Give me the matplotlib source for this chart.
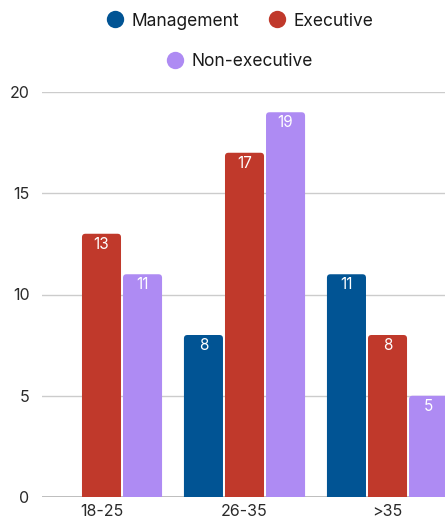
import matplotlib
matplotlib.use("Agg")
import matplotlib.pyplot as plt
from matplotlib.patches import FancyBboxPatch
from matplotlib.lines import Line2D

plt.rcParams['font.family'] = ['Inter', 'DejaVu Sans']

categories = ['18-25', '26-35', '>35']
series_names = ['Management', 'Executive', 'Non-executive']
management = [0, 8, 11]
executive = [13, 17, 8]
non_executive = [11, 19, 5]
y_ticks = [0, 5, 10, 15, 20]

colors = ['#015494', '#c0392b', '#ae8bf3']

W, H = 445, 517
fig = plt.figure(figsize=(W / 100, H / 100), dpi=100)

# axes box in pixels: left 42, bottom at y=497, top (20) at y=92, runs past the right edge
ax = fig.add_axes([42 / W, (H - 497) / H, (W - 42) / W, (497 - 92) / H])
ax.set_xlim(-0.416, 2.402)
ax.set_ylim(0, 20)

bar_w = 0.273
step = 0.287
x_px_per_unit = 143.0
y_px_per_unit = 405 / 20
radius = 3.5 / x_px_per_unit
aspect = (1 / y_px_per_unit) / (1 / x_px_per_unit)

for s, (vals, color) in enumerate(zip([management, executive, non_executive], colors)):
    for i, v in enumerate(vals):
        if v == 0:
            continue
        x0 = i + (s - 1) * step - bar_w / 2
        patch = FancyBboxPatch((x0, -1), bar_w, v + 1,
                               boxstyle=f"round,pad=0,rounding_size={radius}",
                               mutation_aspect=aspect,
                               facecolor=color, edgecolor='none', zorder=3)
        patch.set_clip_path(ax.patch)
        ax.add_patch(patch)
        ax.text(i + (s - 1) * step, v - 10.5 / y_px_per_unit, str(v),
                ha='center', va='center', color='white', fontsize=11, zorder=4)

ax.set_yticks(y_ticks)
ax.set_yticklabels([str(t) for t in y_ticks])
ax.set_xticks(range(len(categories)))
ax.set_xticklabels(categories)
ax.tick_params(axis='both', length=0, labelsize=11.5, labelcolor='#2a2a2a')
ax.tick_params(axis='y', pad=9)
ax.tick_params(axis='x', pad=5)

for t in y_ticks[1:]:
    ax.axhline(t, color='#cccccc', linewidth=1, zorder=1)
ax.axhline(0, color='#aaaaaa', linewidth=1.8, zorder=2)

for sp in ax.spines.values():
    sp.set_visible(False)

handles = [Line2D([], [], marker='o', linestyle='none', markersize=12.5,
                  markerfacecolor=c, markeredgecolor='none') for c in colors]

leg1 = fig.legend(handles[:2], series_names[:2], ncol=2, loc='center',
                  bbox_to_anchor=(0.539, 1 - 21 / H), frameon=False,
                  fontsize=12.5, handletextpad=0.45, columnspacing=1.7,
                  handlelength=1.0)
leg2 = fig.legend(handles[2:], series_names[2:], loc='center',
                  bbox_to_anchor=(0.539, 1 - 62 / H), frameon=False,
                  fontsize=12.5, handletextpad=0.45, handlelength=1.0)
for leg in (leg1, leg2):
    for txt in leg.get_texts():
        txt.set_color('#1a1a1a')

fig.savefig('out.png', dpi=100)
